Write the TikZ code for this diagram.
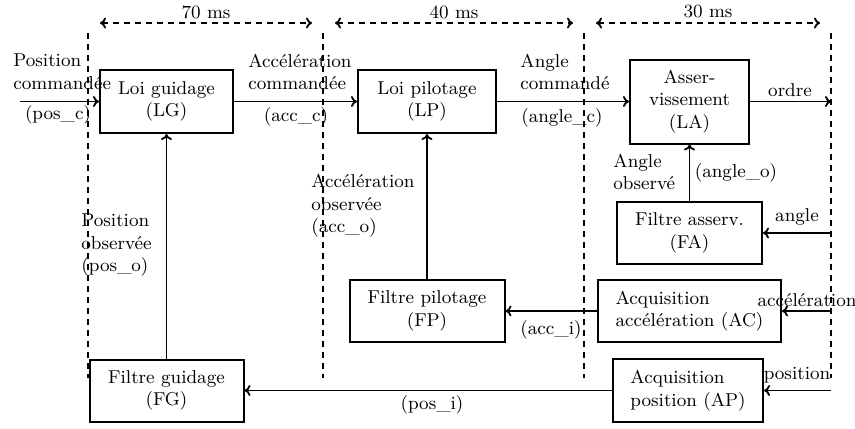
\documentclass[tikz,border=0pt]{standalone}
\usepackage{fontspec}
\usetikzlibrary{arrows.meta}
\newcommand{\dfont}{\fontsize{9.3}{11.3}\selectfont}
\begin{document}
\begin{tikzpicture}[x=0.5pt,y=-0.5pt,
  every node/.style={font=\dfont},
  blockbox/.style={draw,line width=1pt,align=center,inner sep=0pt},
  arr/.style={line width=0.9pt,-{To[length=3pt,width=5.5pt]}},
  sep/.style={line width=0.9pt,dash pattern=on 3pt off 2.5pt},
  span/.style={line width=0.9pt,dash pattern=on 3pt off 2.5pt,{To[length=3pt,width=5.5pt]}-{To[length=3pt,width=5.5pt]}},
  lbl/.style={inner sep=0pt},
  lbll/.style={inner sep=0pt,align=left,anchor=west}]
\useasboundingbox (0,0) rectangle (855,428);
% blocks
\node[blockbox,minimum width=66.5pt,minimum height=31.5pt] (LG) at (166.5,101.5) {Loi guidage\\(LG)};
\node[blockbox,minimum width=69pt,minimum height=31.5pt] (LP) at (427,101.5) {Loi pilotage\\(LP)};
\node[blockbox,minimum width=59.5pt,minimum height=42pt] (LA) at (689.5,101.5) {Asser-\\vissement\\(LA)};
\node[blockbox,minimum width=72.5pt,minimum height=31pt] (FA) at (689.5,233) {Filtre asserv.\\(FA)};
\node[blockbox,minimum width=91.5pt,minimum height=31pt,align=left] (AC) at (689.5,311) {Acquisition\\accélération (AC)};
\node[blockbox,minimum width=77.5pt,minimum height=31pt] (FP) at (427,311) {Filtre pilotage\\(FP)};
\node[blockbox,minimum width=75pt,minimum height=31.5pt,align=left] (AP) at (688,390.5) {Acquisition\\position (AP)};
\node[blockbox,minimum width=77pt,minimum height=31pt] (FG) at (166.5,390.5) {Filtre guidage\\(FG)};
% coordinates
\coordinate (in) at (20,101.5);
\coordinate (out) at (831,101.5);
\coordinate (angin) at (831,233);
\coordinate (accin) at (831,311);
\coordinate (posin) at (831,390.5);
\coordinate (d1t) at (88,33);  \coordinate (d1b) at (88,378);
\coordinate (d2t) at (323,33); \coordinate (d2b) at (323,378);
\coordinate (d3t) at (584,33); \coordinate (d3b) at (584,378);
\coordinate (d4t) at (831,33); \coordinate (d4b) at (831,378);
\coordinate (s1a) at (100,23); \coordinate (s1b) at (312,23);
\coordinate (s2a) at (335,23); \coordinate (s2b) at (573,23);
\coordinate (s3a) at (596,23); \coordinate (s3b) at (820,23);
% dashed separators
\draw[sep] (d1t) -- (d1b);
\draw[sep] (d2t) -- (d2b);
\draw[sep] (d3t) -- (d3b);
\draw[sep] (d4t) -- (d4b);
\draw[span] (s1a) -- (s1b);
\draw[span] (s2a) -- (s2b);
\draw[span] (s3a) -- (s3b);
\node[lbl] (t70) at (206,12) {70 ms};
\node[lbl] (t40) at (454,12) {40 ms};
\node[lbl] (t30) at (708,12) {30 ms};
% connectors
\draw[arr] (in) -- (LG.west);
\draw[arr] (LG.east) -- (LP.west);
\draw[arr] (LP.east) -- (LA.west);
\draw[arr] (LA.east) -- (out);
\draw[arr] (FA.north) -- (LA.south);
\draw[arr] (angin) -- (FA.east);
\draw[arr] (accin) -- (AC.east);
\draw[arr] (AC.west) -- (FP.east);
\draw[arr] (FP.north) -- (LP.south);
\draw[arr] (posin) -- (AP.east);
\draw[arr] (AP.west) -- (FG.east);
\draw[arr] (FG.north) -- (LG.south);
% labels
\node[lbll] (l1) at (13,72) {Position\\commandée};
\node[lbl] (l2) at (58,115) {(pos\_c)};
\node[lbll] (l3) at (248,72) {Accélération\\commandée};
\node[lbl] (l4) at (296,117) {(acc\_c)};
\node[lbll] (l5) at (520,72) {Angle\\commandé};
\node[lbl] (l6) at (562,118) {(angle\_c)};
\node[lbl] (l7) at (790,90) {ordre};
\node[lbll] (l8) at (613,172) {Angle\\observé};
\node[lbl] (l9) at (736,173) {(angle\_o)};
\node[lbl] (l10) at (797,217) {angle};
\node[lbl] (l11) at (807,300) {accélération};
\node[lbl] (l12) at (551,330) {(acc\_i)};
\node[lbl] (l13) at (797,375) {position};
\node[lbl] (l14) at (432,405) {(pos\_i)};
\node[lbll] (l15) at (311,206) {Accélération\\observée\\(acc\_o)};
\node[lbll] (l16) at (81,245) {Position\\observée\\(pos\_o)};
\end{tikzpicture}
\end{document}
